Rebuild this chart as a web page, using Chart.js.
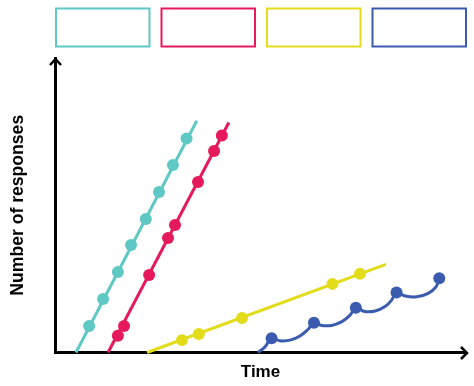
<!DOCTYPE html>
<html>
<head>
<meta charset="utf-8">
<script src="https://cdn.jsdelivr.net/npm/chart.js@4.4.1/dist/chart.umd.min.js"></script>
<style>
html, body { margin: 0; padding: 0; background: #fff; }
</style>
</head>
<body>
<canvas id="graphResponses" width="474" height="386"></canvas>
<script>
// values (time 0-100, responses 0-100)
var tealLineTime = [5.1, 34.5];
var tealLineResponses = [0, 78.7];
var tealDotTime = [8.3, 11.7, 15.3, 18.5, 22.1, 25.3, 28.7, 32.0];
var tealDotResponses = [9.0, 18.2, 27.3, 36.5, 45.3, 54.5, 63.7, 72.7];

var redLineTime = [12.9, 42.3];
var redLineResponses = [0, 78.1];
var redDotTime = [15.3, 16.8, 22.9, 27.5, 29.2, 34.8, 38.7, 40.6];
var redDotResponses = [5.7, 9.0, 26.3, 38.9, 43.3, 57.9, 68.4, 73.7];

var yellowLineTime = [22.4, 80.5];
var yellowLineResponses = [0, 29.9];
var yellowDotTime = [30.9, 35.0, 45.5, 67.5, 74.2];
var yellowDotResponses = [4.2, 6.3, 11.7, 23.3, 26.7];

var blueLineTime = [49.4, 51.1, 52.7, 54.7, 57.2, 59.6, 61.6, 63.0, 64.9, 67.3, 69.8, 71.8, 73.2,
    75.4, 77.9, 80.3, 81.9, 83.1, 85.2, 88.0, 90.8, 92.7, 93.5];
var blueLineResponses = [0, 1.9, 4.8, 4.0, 4.2, 5.6, 7.9, 10.1, 9.2, 9.2, 10.5, 12.7, 15.2,
    13.9, 14.1, 15.6, 17.8, 20.4, 19.2, 18.9, 20.1, 22.3, 25.2];
var blueDotTime = [52.7, 63.0, 73.2, 83.1, 93.5];
var blueDotResponses = [4.8, 10.1, 15.2, 20.4, 25.2];

var seriesColors = ['#5ec8c5', '#e5195c', '#e3dc1a', '#3a5bae'];
var fontFamily = '"Liberation Sans", Arial, sans-serif';

function toPoints(xs, ys){
    return xs.map(function(x, i){ return {x: x, y: ys[i]}; });
}

function lineSet(xs, ys, color, tension){
    return {
        data: toPoints(xs, ys),
        borderColor: color,
        borderWidth: 3,
        pointRadius: 0,
        tension: tension,
        fill: false,
        clip: false
    };
}

function dotSet(xs, ys, color){
    return {
        data: toPoints(xs, ys),
        showLine: false,
        backgroundColor: color,
        borderColor: color,
        pointRadius: 6,
        pointBorderWidth: 0,
        pointHoverRadius: 6,
        clip: false
    };
}

// the four empty boxes on top and the arrow heads on the axes
var decorPlugin = {
    id: 'decor',
    afterDraw: function(chart){
        let ctx = chart.ctx;
        let area = chart.chartArea;
        let gap = 11;
        let w = (area.right - area.left - 3 * gap) / 4;
        ctx.save();
        ctx.lineWidth = 2;
        for (let i = 0; i < seriesColors.length; i++) {
            ctx.strokeStyle = seriesColors[i];
            ctx.strokeRect(area.left + 1 + i * (w + gap), 8.5, w - 1, 38);
        }
        ctx.strokeStyle = '#000';
        ctx.lineWidth = 2.5;
        ctx.lineJoin = 'miter';
        ctx.beginPath();
        let ax = area.left + 0.5;
        ctx.moveTo(ax - 5.5, area.top + 7);
        ctx.lineTo(ax, area.top + 1);
        ctx.lineTo(ax + 5.5, area.top + 7);
        let by = area.bottom + 0.5;
        ctx.moveTo(area.right - 5, by - 6);
        ctx.lineTo(area.right + 1, by);
        ctx.lineTo(area.right - 5, by + 6);
        ctx.stroke();
        ctx.restore();
    }
};

var graphResponses = new Chart('graphResponses', {
    type: 'line',
    data: {
        datasets: [
            lineSet(tealLineTime, tealLineResponses, seriesColors[0], 0),
            dotSet(tealDotTime, tealDotResponses, seriesColors[0]),
            lineSet(redLineTime, redLineResponses, seriesColors[1], 0),
            dotSet(redDotTime, redDotResponses, seriesColors[1]),
            lineSet(yellowLineTime, yellowLineResponses, seriesColors[2], 0),
            dotSet(yellowDotTime, yellowDotResponses, seriesColors[2]),
            lineSet(blueLineTime, blueLineResponses, seriesColors[3], 0.4),
            dotSet(blueDotTime, blueDotResponses, seriesColors[3])
        ]
    },
    options: {
        responsive: false,
        animation: false,
        devicePixelRatio: 1,
        layout: { padding: { top: 58, right: 8, bottom: 0, left: 0 } },
        plugins: {
            legend: { display: false },
            tooltip: { enabled: false }
        },
        scales: {
            x: {
                type: 'linear', min: 0, max: 100, z: 1,
                grid: { display: false },
                ticks: { display: false },
                border: { display: true, color: '#000', width: 3 },
                title: {
                    display: true, text: 'Time', color: '#000',
                    font: { family: fontFamily, size: 17, weight: 'bold' },
                    padding: { top: 0, bottom: 3 }
                },
                afterFit: function(scale){ scale.height = 33.5; }
            },
            y: {
                type: 'linear', min: 0, max: 100, z: 1,
                grid: { display: false },
                ticks: { display: false },
                border: { display: true, color: '#000', width: 3 },
                title: {
                    display: true, text: 'Number of responses', color: '#000',
                    font: { family: fontFamily, size: 17.6, weight: 'bold' },
                    padding: { top: 8, bottom: 0 }
                },
                afterFit: function(scale){ scale.width = 55; }
            }
        }
    },
    plugins: [decorPlugin]
});
</script>
</body>
</html>
